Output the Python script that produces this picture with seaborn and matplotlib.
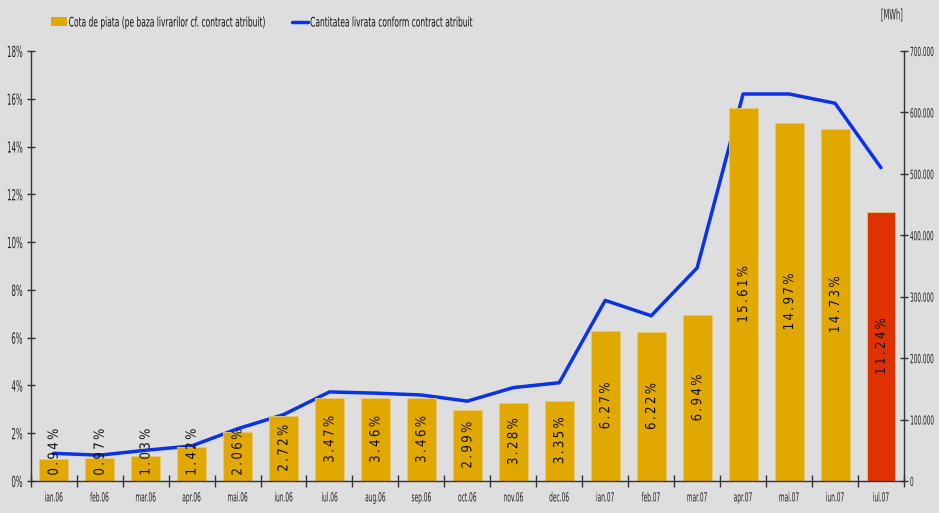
import matplotlib
matplotlib.use("Agg")
import matplotlib.pyplot as plt
import seaborn as sns
import numpy as np
import pandas as pd
from matplotlib.patches import Patch
from matplotlib.lines import Line2D
from matplotlib.ticker import FuncFormatter, MultipleLocator
from matplotlib.patheffects import AbstractPathEffect
from matplotlib.transforms import Affine2D

months = ["ian.06", "feb.06", "mar.06", "apr.06", "mai.06", "iun.06", "iul.06",
          "aug.06", "sep.06", "oct.06", "nov.06", "dec.06", "ian.07", "feb.07",
          "mar.07", "apr.07", "mai.07", "iun.07", "iul.07"]
share = [0.94, 0.97, 1.03, 1.42, 2.06, 2.72, 3.47, 3.46, 3.46, 2.99, 3.28, 3.35,
         6.27, 6.22, 6.94, 15.61, 14.97, 14.73, 11.24]
qty = [45000, 42000, 50000, 57000, 85000, 108000, 145000, 143000, 140000, 130000,
       152000, 160000, 294000, 269000, 347000, 630000, 630000, 615000, 510000]

legend_bar = "Cota de piata (pe baza livrarilor cf. contract atribuit)"
legend_line = "Cantitatea livrata conform contract atribuit"
unit_label = "[MWh]"

BG = "#DEDEDE"
GOLD = "#E0A800"
RED = "#E03200"
BLUE = "#0A32E6"


class Squeeze(AbstractPathEffect):
    """Draw text horizontally compressed (narrow font look)."""

    def __init__(self, sx, anchor="left"):
        super().__init__()
        self.sx = sx
        self.anchor = anchor

    def draw_path(self, renderer, gc, tpath, affine, rgbFace=None):
        ext = tpath.get_extents()
        if self.anchor == "left":
            x0 = ext.x0
        elif self.anchor == "right":
            x0 = ext.x1
        else:
            x0 = (ext.x0 + ext.x1) / 2
        pre = Affine2D().translate(-x0, 0).scale(self.sx, 1).translate(x0, 0)
        renderer.draw_path(gc, tpath, pre + affine, rgbFace)


sns.set_theme(style="white")
plt.rcParams["font.family"] = ["DejaVu Sans"]

fig = plt.figure(figsize=(9.39, 5.13), dpi=100, facecolor=BG)
ax = fig.add_axes([0.0327, 0.0624, 0.93, 0.8382])
ax.set_facecolor(BG)

df = pd.DataFrame({"month": months, "share": share, "qty": qty})
colors = [GOLD] * (len(months) - 1) + [RED]
sns.barplot(data=df, x="month", y="share", hue="month", palette=colors,
            legend=False, width=0.63, ax=ax, edgecolor="#E8C870", linewidth=0.6,
            saturation=1)

ax.set_ylim(0, 18)
ax.set_xlim(-0.5, len(months) - 0.5)
ax.yaxis.set_major_locator(MultipleLocator(2))
ax.yaxis.set_major_formatter(FuncFormatter(lambda v, p: f"{v:.0f}%"))
ax.set_xlabel("")
ax.set_ylabel("")
for s in ["top", "right"]:
    ax.spines[s].set_visible(False)
for s in ["left", "bottom"]:
    ax.spines[s].set_color("#333333")
    ax.spines[s].set_linewidth(1.0)
ax.tick_params(axis="y", which="major", direction="inout", length=6, width=1,
               color="#333333", labelsize=11, pad=2.5, left=True)
ax.tick_params(axis="x", which="major", length=0, labelsize=9, pad=7.5)
ax.set_xticks(np.arange(len(months)))
ax.set_xticklabels(months)
ax.set_xticks(np.arange(len(months) + 1) - 0.5, minor=True)
ax.tick_params(axis="x", which="minor", direction="inout", length=8, width=1,
               color="#333333", bottom=True)

# labels centred in the bar, but kept clear of the axis for short bars
min_centre = 1.2
thin = "\u2009"
for i, v in enumerate(share):
    label = thin.join(f"{v:.2f}%")
    ax.text(i, max(v / 2, min_centre), label, rotation=90, ha="center",
            va="center", fontsize=10, color="#111111", zorder=10,
            path_effects=[Squeeze(0.85, "center")])

ax2 = ax.twinx()
sns.lineplot(x=np.arange(len(months)), y=df["qty"], color=BLUE, linewidth=2.5,
             ax=ax2, zorder=5)
ax2.set_ylim(0, 700000)
ax2.set_xlim(-0.5, len(months) - 0.5)
ax2.yaxis.set_major_locator(MultipleLocator(100000))
ax2.yaxis.set_major_formatter(FuncFormatter(
    lambda v, p: "0" if v == 0 else f"{int(v):,}".replace(",", ".")))
ax2.set_ylabel("")
for s in ["top", "left", "bottom"]:
    ax2.spines[s].set_visible(False)
ax2.spines["right"].set_color("#333333")
ax2.spines["right"].set_linewidth(1.0)
ax2.tick_params(axis="y", direction="inout", length=6, width=1, color="#333333",
                labelsize=9, pad=1, right=True)
ax.set_zorder(ax2.get_zorder() + 1)
ax.patch.set_visible(False)
ax2.set_facecolor(BG)

unit = fig.text(892 / 939, 1 - 15 / 513, unit_label, ha="center", va="center",
                fontsize=10.5, color="#222222", path_effects=[Squeeze(0.46, "center")])

leg1 = fig.legend([Patch(facecolor=GOLD, edgecolor="none")], [legend_bar],
                  loc="center left", bbox_to_anchor=(51 / 939, 1 - 23 / 513),
                  frameon=False, fontsize=9.5, borderpad=0, borderaxespad=0,
                  handlelength=1.2, handleheight=0.65, handletextpad=0.12)
leg2 = fig.legend([Line2D([0], [0], color=BLUE, linewidth=2.5)], [legend_line],
                  loc="center left", bbox_to_anchor=(292 / 939, 1 - 23 / 513),
                  frameon=False, fontsize=9.5, borderpad=0, borderaxespad=0,
                  handlelength=1.2, handletextpad=0.15)
for lg in (leg1, leg2):
    for t in lg.get_texts():
        t.set_path_effects([Squeeze(0.57, "left")])
        t.set_color("#111111")

fig.canvas.draw()
for lbl in ax.get_yticklabels():
    lbl.set_path_effects([Squeeze(0.46, "right")])
    lbl.set_color("#222222")
for lbl in ax.get_xticklabels():
    lbl.set_path_effects([Squeeze(0.47, "center")])
    lbl.set_color("#222222")
for lbl in ax2.get_yticklabels():
    lbl.set_path_effects([Squeeze(0.46, "left")])
    lbl.set_color("#222222")

fig.savefig("out.png", dpi=100, facecolor=BG)
